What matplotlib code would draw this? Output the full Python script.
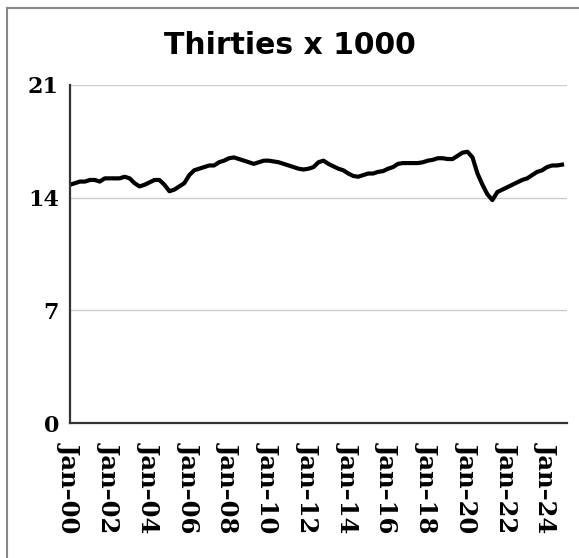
import matplotlib
matplotlib.use("AGG")
import numpy as np
import matplotlib.pyplot as plt
from matplotlib.lines import Line2D

### Data: quarterly readings, thousands ###
start = "2000-01"
vals = [
    14.8, 14.9, 15.0, 15.0,     # 2000
    15.1, 15.1, 15.0, 15.2,     # 2001
    15.2, 15.2, 15.2, 15.3,     # 2002
    15.2, 14.9, 14.7, 14.8,     # 2003
    14.95, 15.1, 15.1, 14.8,    # 2004
    14.4, 14.5, 14.7, 14.9,     # 2005
    15.4, 15.7, 15.8, 15.9,     # 2006
    16.0, 16.0, 16.2, 16.3,     # 2007
    16.45, 16.5, 16.4, 16.3,    # 2008
    16.2, 16.1, 16.2, 16.3,     # 2009
    16.3, 16.25, 16.2, 16.1,    # 2010
    16.0, 15.9, 15.8, 15.75,    # 2011
    15.8, 15.9, 16.2, 16.3,     # 2012
    16.1, 15.95, 15.8, 15.7,    # 2013
    15.5, 15.35, 15.3, 15.4,    # 2014
    15.5, 15.5, 15.6, 15.65,    # 2015
    15.8, 15.9, 16.1, 16.15,    # 2016
    16.15, 16.15, 16.15, 16.2,  # 2017
    16.3, 16.35, 16.45, 16.45,  # 2018
    16.4, 16.4, 16.6, 16.8,     # 2019
    16.85, 16.5, 15.5, 14.8,    # 2020
    14.2, 13.85, 14.35, 14.5,   # 2021
    14.65, 14.8, 14.95, 15.1,   # 2022
    15.2, 15.4, 15.6, 15.7,     # 2023
    15.9, 16.0, 16.0, 16.05,    # 2024
]
dates = np.arange(np.datetime64(start, "M"), np.datetime64(start, "M") + 3 * len(vals), 3).astype("datetime64[D]")

tick_years = list(range(2000, 2025, 2))
tick_labels = ["Jan\u2013%02d" % (y % 100) for y in tick_years]
y_ticks = [0, 7, 14, 21]

### Plot ###
fig = plt.figure(figsize=(5.79, 5.58), dpi=100)
ax = fig.add_axes([70 / 579, 1 - 423 / 558, (567 - 70) / 579, (423 - 85) / 558])

ax.plot(dates, vals, color="black", lw=3, solid_joinstyle="round")

ax.set_ylim(0, 21)
ax.set_xlim(np.datetime64("2000-01-01"), np.datetime64("2025-01-01"))
ax.set_yticks(y_ticks)
ax.set_xticks([np.datetime64("%d-01-01" % y) for y in tick_years])
ax.set_xticklabels(tick_labels, rotation=270, fontfamily="DejaVu Serif",
                   fontweight="bold", fontsize=17.5)
for lab in ax.get_yticklabels():
    lab.set_fontfamily("DejaVu Serif")
    lab.set_fontweight("bold")
    lab.set_fontsize(16)

ax.tick_params(axis="x", length=0, pad=14)
ax.tick_params(axis="y", length=0, pad=8)
ax.yaxis.grid(True, color="#cccccc", lw=1)
ax.set_axisbelow(True)
for s in ["top", "right"]:
    ax.spines[s].set_visible(False)
for s in ["left", "bottom"]:
    ax.spines[s].set_color("#333333")
    ax.spines[s].set_linewidth(1.6)

fig.text(0.5, 1 - 45 / 558, "Thirties x 1000", ha="center", va="center",
         fontsize=21.5, fontweight="bold", fontfamily="DejaVu Sans")

# outer frame, only top and left edges show
fig.add_artist(Line2D([7 / 579, 1], [1 - 8 / 558, 1 - 8 / 558], color="#888888", lw=1.5))
fig.add_artist(Line2D([7 / 579, 7 / 579], [0, 1 - 8 / 558], color="#888888", lw=1.5))

fig.savefig("out.png", dpi=100)
